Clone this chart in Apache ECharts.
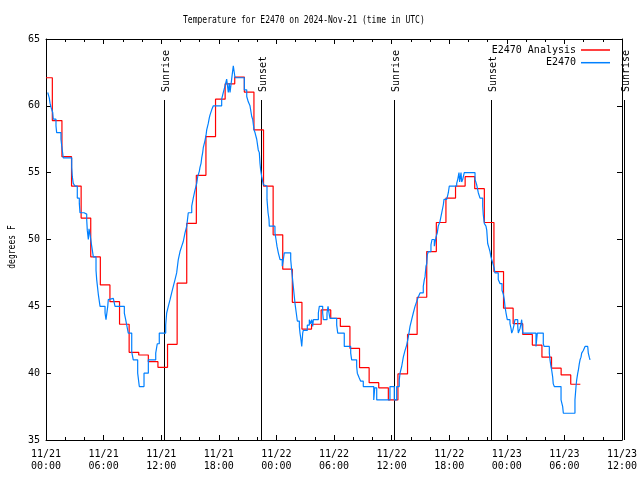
<!DOCTYPE html>
<html><head><meta charset="utf-8">
<script src="https://cdn.jsdelivr.net/npm/echarts@6/dist/echarts.min.js"></script>
<style>html,body{margin:0;padding:0;background:#fff}#c{width:640px;height:480px}</style>
</head><body><div id="c"></div>
<script>
const titleText = 'Temperature for E2470 on 2024-Nov-21 (time in UTC)';
const yAxisName = 'degrees F';
const xTickLabels = ['11/21\n00:00','11/21\n06:00','11/21\n12:00','11/21\n18:00','11/22\n00:00','11/22\n06:00','11/22\n12:00','11/22\n18:00','11/23\n00:00','11/23\n06:00','11/23\n12:00'];
const seriesNames = ['E2470 Analysis','E2470'];
// hours since 2024-11-21 00:00 UTC
const analysisHours = [0,0.66,1.66,2.66,3.66,4.66,5.66,6.66,7.66,8.66,9.66,10.66,11.66,12.66,13.66,14.66,15.66,16.66,17.66,18.66,19.66,20.66,21.66,22.66,23.66,24.66,25.66,26.66,27.66,28.66,29.66,30.66,31.66,32.66,33.66,34.66,35.66,36.66,37.66,38.66,39.66,40.66,41.66,42.66,43.66,44.66,45.66,46.66,47.66,48.66,49.66,50.66,51.66,52.66,53.66,54.66,55.66];
const analysisTemps = [62.1,58.9,56.2,54.0,51.6,48.7,46.6,45.35,43.66,41.56,41.36,40.86,40.44,42.16,46.73,51.2,54.8,57.7,60.5,61.65,62.15,61.03,58.2,54.0,50.35,47.78,45.3,43.3,43.66,44.73,44.1,43.5,41.86,40.41,39.29,38.9,38.0,39.94,42.9,45.68,49.1,51.27,53.1,54.0,54.7,53.8,51.27,47.6,44.86,43.7,42.9,42.1,41.2,40.37,39.87,39.17,39.17];
const obsHours = [0.18,0.24,0.34,0.42,0.52,0.70,0.76,1.04,1.11,1.56,1.64,1.80,2.68,2.74,2.84,3.02,3.26,3.47,3.54,3.96,4.24,4.30,4.41,4.48,4.58,4.76,4.93,5.21,5.28,5.45,5.63,6.15,6.25,6.43,6.49,6.67,7.01,7.19,8.16,8.30,8.41,8.57,8.93,9.09,9.55,9.72,10.21,10.66,11.43,11.59,11.80,12.47,12.57,12.74,12.92,13.09,13.26,13.44,13.61,13.78,13.96,14.14,14.30,14.48,14.66,14.82,15.18,15.34,15.52,15.70,15.80,15.97,16.04,16.15,16.22,16.32,16.39,16.56,16.67,16.74,16.84,16.91,17.01,17.08,17.26,17.43,18.30,18.47,18.65,18.82,18.99,19.09,19.17,19.34,19.51,19.69,20.66,20.91,21.07,21.25,21.43,21.53,21.67,21.77,21.95,22.11,22.22,22.29,22.36,22.47,22.64,22.81,23.02,23.13,23.23,23.26,23.85,23.96,24.06,24.20,24.38,24.61,24.72,24.82,25.49,25.59,25.76,25.94,26.07,26.18,26.39,26.46,26.56,26.64,26.74,26.80,27.22,27.43,27.57,27.68,27.78,27.85,28.02,28.37,28.47,28.82,28.89,29.27,29.38,29.48,29.58,30.28,30.39,31.07,31.74,31.84,32.36,32.43,32.60,32.78,33.05,34.14,34.24,34.45,35.83,36.28,36.53,36.80,36.88,37.05,37.22,37.40,37.57,37.74,37.92,38.09,38.26,38.44,38.61,38.78,38.96,39.30,39.41,39.48,39.58,39.66,39.72,39.82,40.10,40.21,40.45,40.63,40.76,40.86,41.04,41.22,41.39,41.46,41.74,41.91,42.01,42.78,42.89,43.02,43.09,43.23,43.30,43.41,43.57,44.69,44.86,45.03,45.21,45.49,45.55,45.66,45.83,45.91,46.01,46.15,46.25,46.35,46.43,46.59,46.67,46.77,47.11,47.29,47.50,47.64,47.74,47.81,47.92,48.05,48.33,48.44,48.51,48.62,48.75,48.85,49.14,49.20,49.38,49.48,49.55,49.62,49.66,51.04,51.11,51.18,51.80,51.88,52.43,52.50,52.60,52.68,52.78,52.84,52.95,53.65,53.82,53.89,55.10,55.21,55.28,55.39,55.45,55.55,55.63,55.73,55.80,55.97,56.15,56.32,56.43,56.49,56.59,56.67];
const obsTemps = [61.0,60.9,60.6,60.2,59.9,59.5,59.0,58.5,58.0,57.5,57.0,56.1,55.4,54.7,54.2,54.0,53.1,52.7,52.0,51.9,51.5,50.7,50.0,50.8,50.4,49.5,48.7,47.7,47.0,45.9,45.0,44.5,44.0,45.0,45.5,45.6,45.5,45.0,44.5,44.0,43.6,43.0,41.6,41.0,40.0,39.0,40.0,41.0,41.5,42.2,43.0,43.6,44.5,45.0,45.5,46.0,46.5,47.0,47.5,48.5,49.1,49.5,49.85,50.5,51.0,52.0,52.5,53.1,53.7,54.2,54.7,55.1,55.4,55.7,56.1,56.5,56.9,57.4,57.8,58.2,58.5,58.7,59.1,59.3,59.7,60.0,60.5,61.0,61.5,62.0,61.0,61.7,61.0,62.0,63.0,62.1,61.2,60.7,60.3,60.0,59.2,59.0,58.2,58.0,57.5,56.7,56.5,55.7,55.2,54.7,54.1,54.0,53.0,52.0,51.5,51.0,50.5,50.0,49.5,49.0,48.5,48.0,48.5,49.0,48.5,47.7,46.5,45.2,44.5,43.9,43.5,43.0,42.5,42.0,43.0,43.2,43.6,44.0,43.7,44.0,43.5,44.0,44.0,44.5,45.0,44.5,44.0,44.5,45.0,44.5,44.1,43.6,43.0,42.0,41.5,41.0,40.5,40.0,39.7,39.4,39.0,38.0,38.9,38.0,39.0,38.0,39.0,39.5,40.0,40.5,41.2,41.7,42.1,42.7,43.5,44.0,44.5,45.0,45.35,45.7,46.0,46.5,47.0,47.2,48.0,48.2,48.85,49.1,49.6,50.0,49.5,50.2,50.5,51.0,51.35,52.0,52.6,53.0,53.1,53.5,54.0,54.2,54.5,55.0,54.3,55.0,54.3,54.5,55.0,54.5,54.1,53.5,53.1,52.5,51.85,51.2,51.0,50.7,49.7,49.35,49.1,48.7,48.5,48.1,47.9,47.5,47.0,46.7,46.2,45.9,45.5,45.0,44.5,44.0,43.7,43.35,43.0,43.2,43.6,44.0,43.5,43.0,43.35,43.7,44.0,43.35,43.0,42.0,42.5,43.0,42.2,42.0,41.5,41.0,40.5,40.2,39.7,39.2,39.0,38.0,37.5,37.0,38.0,39.0,39.5,40.0,40.2,40.7,41.0,41.2,41.5,41.7,42.0,42.0,41.9,41.5,41.2,41.0];
const sunEventNames = ['Sunrise','Sunset','Sunrise','Sunset','Sunrise'];
const sunEventHours = [12.32, 22.47, 36.28, 46.39, 60.25];

const FONT = '"DejaVu Sans Mono", "Liberation Mono", monospace';
const zip = (a, b) => a.map((v, i) => [v, b[i]]);

const chart = echarts.init(document.getElementById('c'), null, {renderer: 'canvas'});
const axisCommon = {
  type: 'value', min: 0, max: 60, interval: 6,
  axisLine: {show: true, onZero: false, lineStyle: {color: '#000', width: 1}},
  axisTick: {show: true, inside: true, length: 5, lineStyle: {color: '#000'}},
  minorTick: {show: true, splitNumber: 3, length: 3, lineStyle: {color: '#000'}},
  splitLine: {show: false}, minorSplitLine: {show: false}
};
const yCommon = {
  type: 'value', min: 35, max: 65, interval: 5,
  axisLine: {show: true, onZero: false, lineStyle: {color: '#000', width: 1}},
  axisTick: {show: true, inside: true, length: 5, lineStyle: {color: '#000'}},
  splitLine: {show: false}
};
chart.setOption({
  animation: false,
  backgroundColor: '#fff',
  grid: {left: 46, right: 18, top: 39, bottom: 40, containLabel: false, outerBoundsMode: 'none'},
  graphic: [
    {type: 'text', x: 183, y: 20, scaleX: 0.73, style: {text: titleText, font: '11px ' + FONT, fill: '#000', align: 'left', verticalAlign: 'middle'}},
    {type: 'text', x: 12, y: 247, rotation: Math.PI / 2, scaleX: 0.73, style: {text: yAxisName, font: '11px ' + FONT, fill: '#000', align: 'center', verticalAlign: 'middle'}}
  ],
  legend: {
    data: seriesNames.map(n => ({name: n, icon: 'rect'})),
    orient: 'vertical', align: 'right', right: 25, top: 39, padding: 5,
    itemWidth: 29, itemHeight: 1.5, itemGap: 0.7,
    textStyle: {fontFamily: FONT, fontSize: 10, color: '#000', lineHeight: 12},
    selectedMode: false
  },
  xAxis: [
    Object.assign({}, axisCommon, {position: 'bottom',
      axisLabel: {show: true, showMinLabel: true, showMaxLabel: true, formatter: v => xTickLabels[Math.round(v / 6)], fontFamily: FONT, fontSize: 10, color: '#000', lineHeight: 12, margin: 8}}),
    Object.assign({}, axisCommon, {position: 'top', axisLabel: {show: false}})
  ],
  yAxis: [
    Object.assign({}, yCommon, {position: 'left', axisLabel: {show: true, showMinLabel: true, showMaxLabel: true, fontFamily: FONT, fontSize: 10, color: '#000', margin: 6}}),
    Object.assign({}, yCommon, {position: 'right', axisLabel: {show: false}})
  ],
  series: [
    {name: seriesNames[0], type: 'line', step: 'end', data: zip(analysisHours, analysisTemps), symbol: 'none', showSymbol: false,
     lineStyle: {color: '#ff0000', width: 1.2}, itemStyle: {color: '#ff0000'}, emphasis: {disabled: true}},
    {name: seriesNames[1], type: 'line', step: 'end', data: zip(obsHours, obsTemps), symbol: 'none', showSymbol: false,
     lineStyle: {color: '#0080ff', width: 1.2}, itemStyle: {color: '#0080ff'}, emphasis: {disabled: true}},
    {name: 'sun', type: 'custom', clip: false, silent: true,
     data: sunEventHours.map((h, i) => [h, 35, i]), encode: {x: 0, y: 1},
     renderItem: function (params, api) {
       const h = api.value(0);
       const bottom = api.coord([h, 35]);
       const top = api.coord([h, 65]);
       const x = Math.round(bottom[0] - 0.5) + 0.5;
       return {type: 'group', children: [
         {type: 'line', shape: {x1: x, y1: top[1] + 61, x2: x, y2: bottom[1]}, style: {stroke: '#000', lineWidth: 1}},
         {type: 'text', x: x + 2, y: top[1] + 53, rotation: Math.PI / 2,
          style: {text: sunEventNames[api.value(2)], font: '10px ' + FONT, fill: '#000', align: 'left', verticalAlign: 'middle'}}
       ]};
     }}
  ]
});
</script></body></html>
